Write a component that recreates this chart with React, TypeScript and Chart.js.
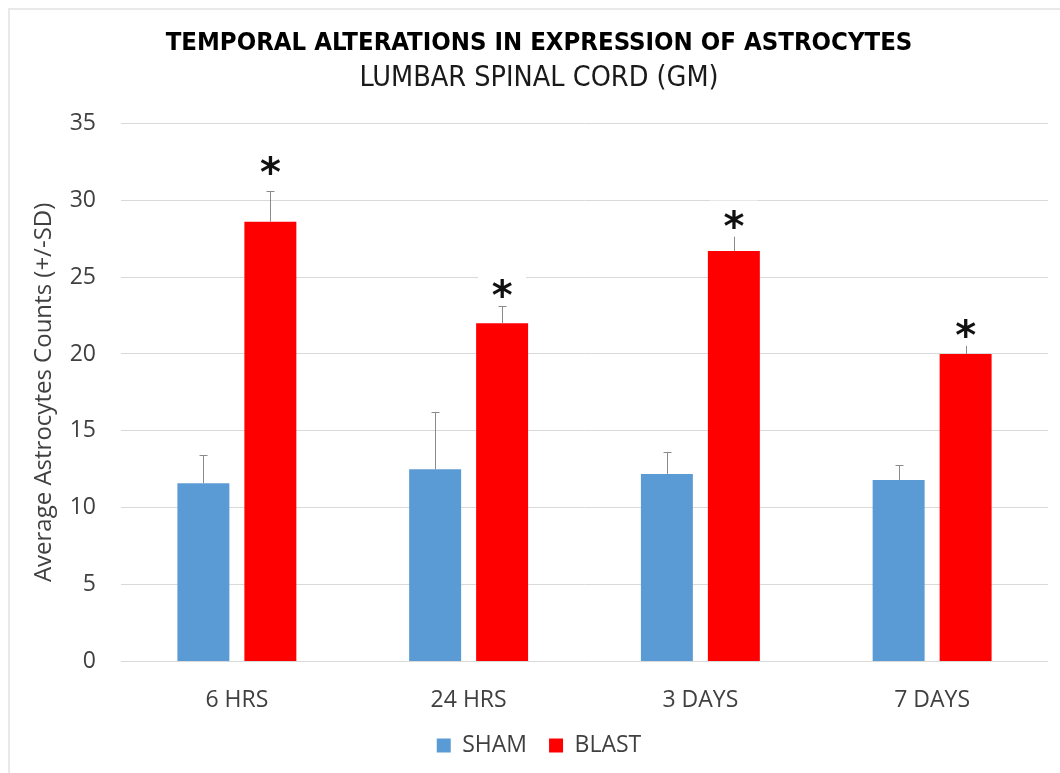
import React, { useEffect, useRef } from 'react';
import { Chart, registerables } from 'chart.js';

Chart.register(...registerables);

const categories = ['6 HRS', '24 HRS', '3 DAYS', '7 DAYS'];
const shamMeans = [11.6, 12.5, 12.2, 11.8];
const shamSD = [1.8, 3.7, 1.4, 1.0];
const blastMeans = [28.6, 22.0, 26.7, 20.0];
const blastSD = [2.0, 1.1, 1.3, 0.7];
const starLevels = [32.3, 24.3, 28.8, 21.7];
const starLabels = ['*', '*', '*', '*'];
const yTicks = [0, 5, 10, 15, 20, 25, 30, 35];

const FONT = "'Open Sans', 'DejaVu Sans', sans-serif";
const NARROW = "'DejaVu Sans Condensed', 'Open Sans', sans-serif";

export default function App() {
  const ref = useRef<HTMLCanvasElement>(null);

  useEffect(() => {
    if (!ref.current) return;

    const framePlugin = {
      id: 'frame',
      beforeDraw(chart: any) {
        const ctx = chart.ctx;
        ctx.save();
        ctx.fillStyle = '#ffffff';
        ctx.fillRect(0, 0, chart.width, chart.height);
        ctx.fillStyle = '#e9e9e9';
        ctx.fillRect(8, 8, 2, chart.height);
        ctx.fillRect(8, 8, chart.width, 2);
        ctx.restore();
      },
    };

    const errPlugin = {
      id: 'errAndStars',
      afterDatasetsDraw(chart: any) {
        const ctx = chart.ctx;
        const y = chart.scales.y;
        const sds = [shamSD, blastSD];
        ctx.save();
        ctx.strokeStyle = '#8a8a8a';
        ctx.lineWidth = 1;
        [0, 1].forEach((di) => {
          const meta = chart.getDatasetMeta(di);
          meta.data.forEach((bar: any, i: number) => {
            const v = chart.data.datasets[di].data[i] as number;
            const top = Math.round(y.getPixelForValue(v + sds[di][i])) + 0.5;
            const x = Math.round(bar.x) + 0.5;
            ctx.beginPath();
            ctx.moveTo(x, bar.y);
            ctx.lineTo(x, top);
            ctx.moveTo(x - 4, top);
            ctx.lineTo(x + 4, top);
            ctx.stroke();
          });
        });
        const meta = chart.getDatasetMeta(1);
        ctx.font = "bold 40px 'DejaVu Sans', sans-serif";
        ctx.textAlign = 'center';
        ctx.textBaseline = 'alphabetic';
        meta.data.forEach((bar: any, i: number) => {
          const cy = y.getPixelForValue(starLevels[i]);
          ctx.fillStyle = '#ffffff';
          ctx.fillRect(bar.x - 24, cy - 18, 48, 36);
          const m = ctx.measureText(starLabels[i]);
          const baseline = cy + (m.actualBoundingBoxAscent - m.actualBoundingBoxDescent) / 2;
          ctx.fillStyle = '#111111';
          ctx.fillText(starLabels[i], bar.x, baseline);
        });
        ctx.restore();
      },
    };

    const chart = new Chart(ref.current, {
      type: 'bar',
      data: {
        labels: categories,
        datasets: [
          {
            label: 'SHAM',
            data: shamMeans,
            backgroundColor: '#5b9bd5',
            categoryPercentage: 0.578,
            barPercentage: 0.776,
          },
          {
            label: 'BLAST',
            data: blastMeans,
            backgroundColor: '#ff0000',
            categoryPercentage: 0.578,
            barPercentage: 0.776,
          },
        ],
      },
      options: {
        responsive: false,
        maintainAspectRatio: false,
        animation: false,
        devicePixelRatio: 1,
        layout: { padding: { left: 30, right: 12, top: 0, bottom: 6 } },
        plugins: {
          tooltip: { enabled: false },
          title: {
            display: true,
            text: 'TEMPORAL ALTERATIONS IN EXPRESSION OF ASTROCYTES',
            color: '#000000',
            font: { family: NARROW, size: 25.5, weight: 'bold', lineHeight: 1.2 },
            padding: { top: 28, bottom: 0 },
          },
          subtitle: {
            display: true,
            text: 'LUMBAR SPINAL CORD (GM)',
            color: '#1a1a1a',
            font: { family: NARROW, size: 28.5, weight: 'normal', lineHeight: 1.2 },
            padding: { top: 2.5, bottom: 28 },
          },
          legend: {
            position: 'bottom',
            labels: {
              boxWidth: 14,
              boxHeight: 14,
              padding: 22,
              color: '#404040',
              font: { family: FONT, size: 23 },
            },
          },
        },
        scales: {
          x: {
            grid: { display: false, drawTicks: false },
            border: { display: false },
            ticks: {
              color: '#404040',
              font: { family: FONT, size: 23 },
              padding: 25,
            },
            afterFit: (s: any) => {
              s.height = 50.5;
            },
          },
          y: {
            min: 0,
            max: 35,
            afterBuildTicks: (s: any) => {
              s.ticks = yTicks.map((v) => ({ value: v }));
            },
            grid: { color: '#d9d9d9', drawTicks: false, lineWidth: 1 },
            border: { display: false },
            ticks: {
              color: '#404040',
              font: { family: FONT, size: 23 },
              padding: 25,
            },
            title: {
              display: true,
              text: 'Average Astrocytes Counts (+/-SD)',
              color: '#404040',
              font: { family: FONT, size: 24 },
              padding: { top: 0, bottom: 0 },
            },
            afterFit: (s: any) => {
              s.width = 91;
            },
          },
        },
      },
      plugins: [framePlugin, errPlugin],
    });

    return () => chart.destroy();
  }, []);

  return (
    <div style={{ position: 'absolute', left: 0, top: 0, width: 1060, height: 773 }}>
      <canvas ref={ref} width={1060} height={773} style={{ display: 'block' }} />
    </div>
  );
}
